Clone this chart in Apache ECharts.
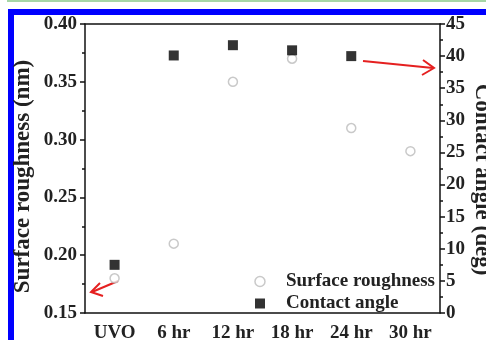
<!DOCTYPE html>
<html>
<head>
<meta charset="utf-8">
<script src="https://cdn.jsdelivr.net/npm/echarts@6/dist/echarts.min.js"></script>
<style>
html,body{margin:0;padding:0;background:#fff;}
#chart{width:486px;height:340px;}
</style>
</head>
<body>
<div id="chart"></div>
<script>
var categories = ['UVO', '6 hr', '12 hr', '18 hr', '24 hr', '30 hr'];
var roughness = [0.18, 0.21, 0.35, 0.37, 0.31, 0.29];
var contactAngle = [7.5, 40.1, 41.7, 40.9, 40.0, null];
var leftTicks = [0.15, 0.20, 0.25, 0.30, 0.35, 0.40];
var rightTicks = [0, 5, 10, 15, 20, 25, 30, 35, 40, 45];

var FONT = '"Liberation Serif", "Times New Roman", serif';
var chart = echarts.init(document.getElementById('chart'));

var axisLabelStyle = {fontFamily: FONT, fontWeight: 'bold', fontSize: 19, color: '#222'};

chart.setOption({
  animation: false,
  backgroundColor: '#fff',
  grid: {left: 85, right: 46, top: 24, bottom: 27, show: false, containLabel: false, outerBoundsMode: 'none'},
  legend: {
    right: 51, bottom: 27, orient: 'vertical', itemGap: 3, itemWidth: 10, itemHeight: 10, padding: 0,
    textStyle: {fontFamily: FONT, fontWeight: 'bold', fontSize: 19, color: '#222', padding: [0, 0, 0, 16]},
    data: [
      {name: 'Surface roughness', icon: 'circle', itemStyle: {color: '#fff', borderColor: '#bbb', borderWidth: 1.5}},
      {name: 'Contact angle', icon: 'rect', itemStyle: {color: '#000'}}
    ]
  },
  xAxis: [{
    type: 'category', data: categories, boundaryGap: true,
    axisLine: {lineStyle: {color: '#111', width: 1.5}},
    axisTick: {alignWithLabel: true, interval: 0, length: 4, lineStyle: {color: '#111', width: 1.5}},
    axisLabel: Object.assign({margin: 11, interval: 0, hideOverlap: false}, axisLabelStyle)
  }, {
    type: 'category', data: categories, position: 'top', boundaryGap: true,
    axisLine: {show: true, lineStyle: {color: '#111', width: 1.5}},
    axisTick: {show: false}, axisLabel: {show: false}
  }],
  yAxis: [{
    type: 'value', min: 0.15, max: 0.40, interval: 0.05, position: 'left',
    name: 'Surface roughness (nm)', nameLocation: 'middle', nameGap: 50, nameRotate: 90, nameMoveOverlap: false,
    nameTextStyle: {fontFamily: FONT, fontWeight: 'bold', fontSize: 23, color: '#222', padding: [0, 16, 0, 0]},
    axisLine: {show: true, lineStyle: {color: '#111', width: 1.5}},
    axisTick: {show: true, length: 5, lineStyle: {color: '#111', width: 1.5}},
    minorTick: {show: true, splitNumber: 2, length: 3, lineStyle: {color: '#111', width: 1.5}},
    splitLine: {show: false},
    axisLabel: Object.assign({margin: 8, formatter: function (v) { return v.toFixed(2); }}, axisLabelStyle)
  }, {
    type: 'value', min: 0, max: 45, interval: 5, position: 'right',
    name: 'Contact angle (deg)', nameLocation: 'middle', nameGap: 30, nameRotate: -90, nameMoveOverlap: false,
    nameTextStyle: {fontFamily: FONT, fontWeight: 'bold', fontSize: 23, color: '#222', padding: [0, 0, 0, 22]},
    axisLine: {show: true, lineStyle: {color: '#111', width: 1.5}},
    axisTick: {show: true, length: 5, lineStyle: {color: '#111', width: 1.5}},
    minorTick: {show: true, splitNumber: 2, length: 3, lineStyle: {color: '#111', width: 1.5}},
    splitLine: {show: false},
    axisLabel: Object.assign({margin: 6}, axisLabelStyle)
  }],
  series: [{
    name: 'Surface roughness', type: 'scatter', yAxisIndex: 0, data: roughness,
    symbol: 'circle', symbolSize: 9,
    itemStyle: {color: '#fff', borderColor: '#bbb', borderWidth: 1.5}
  }, {
    name: 'Contact angle', type: 'scatter', yAxisIndex: 1, data: contactAngle,
    symbol: 'rect', symbolSize: 10,
    itemStyle: {color: '#000'}, z: 3
  }],
  graphic: [
    {type: 'rect', shape: {x: 8, y: 9, width: 478, height: 6}, style: {fill: '#0000ff'}, silent: true},
    {type: 'rect', shape: {x: 8, y: 9, width: 6, height: 331}, style: {fill: '#0000ff'}, silent: true},
    {type: 'rect', shape: {x: 7, y: 0, width: 479, height: 2}, style: {fill: '#a6d6a6'}, silent: true},
    {type: 'line', shape: {x1: 363, y1: 61, x2: 433, y2: 68}, style: {stroke: '#e52020', lineWidth: 2}},
    {type: 'polyline', shape: {points: [[423, 60], [434, 68], [422, 75]]}, style: {stroke: '#e52020', lineWidth: 2, fill: null}},
    {type: 'line', shape: {x1: 118, y1: 281, x2: 92, y2: 292}, style: {stroke: '#e52020', lineWidth: 2}},
    {type: 'polyline', shape: {points: [[100, 283], [91, 292], [103, 296]]}, style: {stroke: '#e52020', lineWidth: 2, fill: null}}
  ]
});
</script>
</body>
</html>
